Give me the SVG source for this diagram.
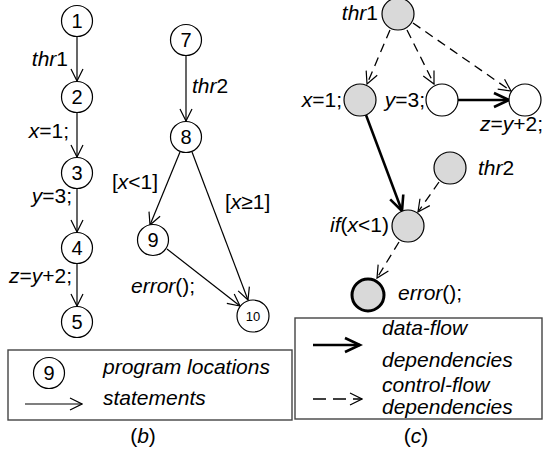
<svg xmlns="http://www.w3.org/2000/svg" width="545" height="449" viewBox="0 0 545 449">
<style>
text{font-family:"Liberation Sans",Arial,sans-serif;font-size:21px;fill:#000}
.i{font-style:italic}
.n{text-anchor:middle;font-size:20px}
.c{fill:#fff;stroke:#000;stroke-width:1.2}
.g{fill:#d9d9d9;stroke:#000;stroke-width:1.2}
.e{fill:none;stroke:#000;stroke-width:1.2;marker-end:url(#a)}
.d{fill:none;stroke:#000;stroke-width:1.3;stroke-dasharray:9 6;marker-end:url(#a)}
.t{fill:none;stroke:#000;stroke-width:2.6;marker-end:url(#b)}
.box{fill:none;stroke:#444;stroke-width:1.4}
</style>
<defs>
<marker id="a" viewBox="0 0 14 14" refX="13" refY="7" markerWidth="14" markerHeight="14" markerUnits="userSpaceOnUse" orient="auto">
<path d="M1,1 L13,7 L1,13" fill="none" stroke="#000" stroke-width="1.2" stroke-dasharray="none"/>
</marker>
<marker id="b" viewBox="0 0 20 20" refX="17" refY="10" markerWidth="20" markerHeight="20" markerUnits="userSpaceOnUse" orient="auto">
<path d="M2,3 L17,10 L2,17" fill="none" stroke="#000" stroke-width="2.6"/>
</marker>
</defs>

<g id="connectors">
<line class="e" x1="77" y1="37" x2="77" y2="81"/>
<line class="e" x1="77" y1="113" x2="77" y2="157"/>
<line class="e" x1="77" y1="189" x2="77" y2="232"/>
<line class="e" x1="77" y1="264" x2="77" y2="306"/>
<line class="e" x1="186" y1="56" x2="186" y2="121"/>
<line class="e" x1="180" y1="152" x2="150" y2="225"/>
<line class="e" x1="192" y1="152" x2="248" y2="300"/>
<line class="e" x1="167" y1="249" x2="240" y2="306"/>
<line class="d" x1="390" y1="30" x2="367" y2="84"/>
<line class="d" x1="407" y1="30" x2="434" y2="84"/>
<line class="d" x1="413" y1="23" x2="511" y2="91"/>
<line class="t" x1="458" y1="100" x2="509" y2="100"/>
<line class="t" x1="366" y1="115" x2="402" y2="211"/>
<line class="d" x1="439" y1="182" x2="418" y2="212"/>
<line class="d" x1="399" y1="242" x2="377" y2="278"/>
</g>

<g id="n1"><circle class="c" cx="77" cy="21" r="15.5"/><text class="n" x="77" y="28">1</text></g>
<g id="n2"><circle class="c" cx="77" cy="97" r="15.5"/><text class="n" x="77" y="104">2</text></g>
<g id="n3"><circle class="c" cx="77" cy="173" r="15.5"/><text class="n" x="77" y="180">3</text></g>
<g id="n4"><circle class="c" cx="77" cy="248" r="15.5"/><text class="n" x="77" y="255">4</text></g>
<g id="n5"><circle class="c" cx="77" cy="322" r="15.5"/><text class="n" x="77" y="329">5</text></g>
<g id="lbl-left">
<text x="68" y="66" text-anchor="end"><tspan class="i">thr</tspan>1</text>
<text x="69" y="138" text-anchor="end"><tspan class="i">x</tspan>=1;</text>
<text x="72" y="203" text-anchor="end"><tspan class="i">y</tspan>=3;</text>
<text x="72" y="283" text-anchor="end"><tspan class="i">z</tspan>=<tspan class="i">y</tspan>+2;</text>
</g>

<g id="n7"><circle class="c" cx="186" cy="40" r="15.5"/><text class="n" x="186" y="47">7</text></g>
<g id="n8"><circle class="c" cx="186" cy="137" r="15.5"/><text class="n" x="186" y="144">8</text></g>
<g id="n9"><circle class="c" cx="153" cy="240" r="15.5"/><text class="n" x="153" y="247">9</text></g>
<g id="n10"><circle class="c" cx="253" cy="316" r="16"/><text class="n" x="253" y="321" style="font-size:13px">10</text></g>
<g id="lbl-mid">
<text x="192" y="93"><tspan class="i">thr</tspan>2</text>
<text x="112" y="189">[<tspan class="i">x</tspan>&lt;1]</text>
<text x="225" y="209">[<tspan class="i">x</tspan>≥1]</text>
<text x="131" y="293"><tspan class="i">error</tspan>();</text>
</g>

<g id="r-thr1"><circle class="g" cx="398" cy="14" r="16"/><text x="378" y="20" text-anchor="end"><tspan class="i">thr</tspan>1</text></g>
<g id="r-x"><circle class="g" cx="360" cy="100" r="16"/><text x="342" y="107" text-anchor="end"><tspan class="i">x</tspan>=1;</text></g>
<g id="r-y"><circle class="c" cx="442" cy="100" r="16"/><text x="425" y="107" text-anchor="end"><tspan class="i">y</tspan>=3;</text></g>
<g id="r-z"><circle class="c" cx="525" cy="100" r="16"/><text x="543" y="131" text-anchor="end"><tspan class="i">z</tspan>=<tspan class="i">y</tspan>+2;</text></g>
<g id="r-thr2"><circle class="g" cx="450" cy="168" r="16"/><text x="478" y="175"><tspan class="i">thr</tspan>2</text></g>
<g id="r-if"><circle class="g" cx="408" cy="226" r="16"/><text x="389" y="232" text-anchor="end"><tspan class="i">if</tspan>(<tspan class="i">x</tspan>&lt;1)</text></g>
<g id="r-err"><circle cx="368" cy="295" r="16" fill="#d9d9d9" stroke="#000" stroke-width="3"/><text x="398" y="300"><tspan class="i">error</tspan>();</text></g>

<g id="legend-b">
<rect class="box" x="8" y="350" width="284" height="70"/>
<circle class="c" cx="49" cy="373" r="15.5"/><text class="n" x="49" y="380">9</text>
<text class="i" x="103" y="374">program locations</text>
<line class="e" x1="25" y1="404" x2="82" y2="404"/>
<text class="i" x="103" y="405">statements</text>
<text x="143" y="443" text-anchor="middle">(<tspan class="i">b</tspan>)</text>
</g>

<g id="legend-c">
<rect class="box" x="295" y="318" width="247" height="101"/>
<line class="t" x1="313" y1="345" x2="360" y2="345"/>
<text class="i" x="382" y="335">data-flow</text>
<text class="i" x="382" y="367">dependencies</text>
<line class="d" x1="313" y1="399" x2="362" y2="399" style="stroke-dasharray:13 7"/>
<text class="i" x="382" y="392">control-flow</text>
<text class="i" x="382" y="414">dependencies</text>
<text x="416" y="443" text-anchor="middle">(<tspan class="i">c</tspan>)</text>
</g>
</svg>
